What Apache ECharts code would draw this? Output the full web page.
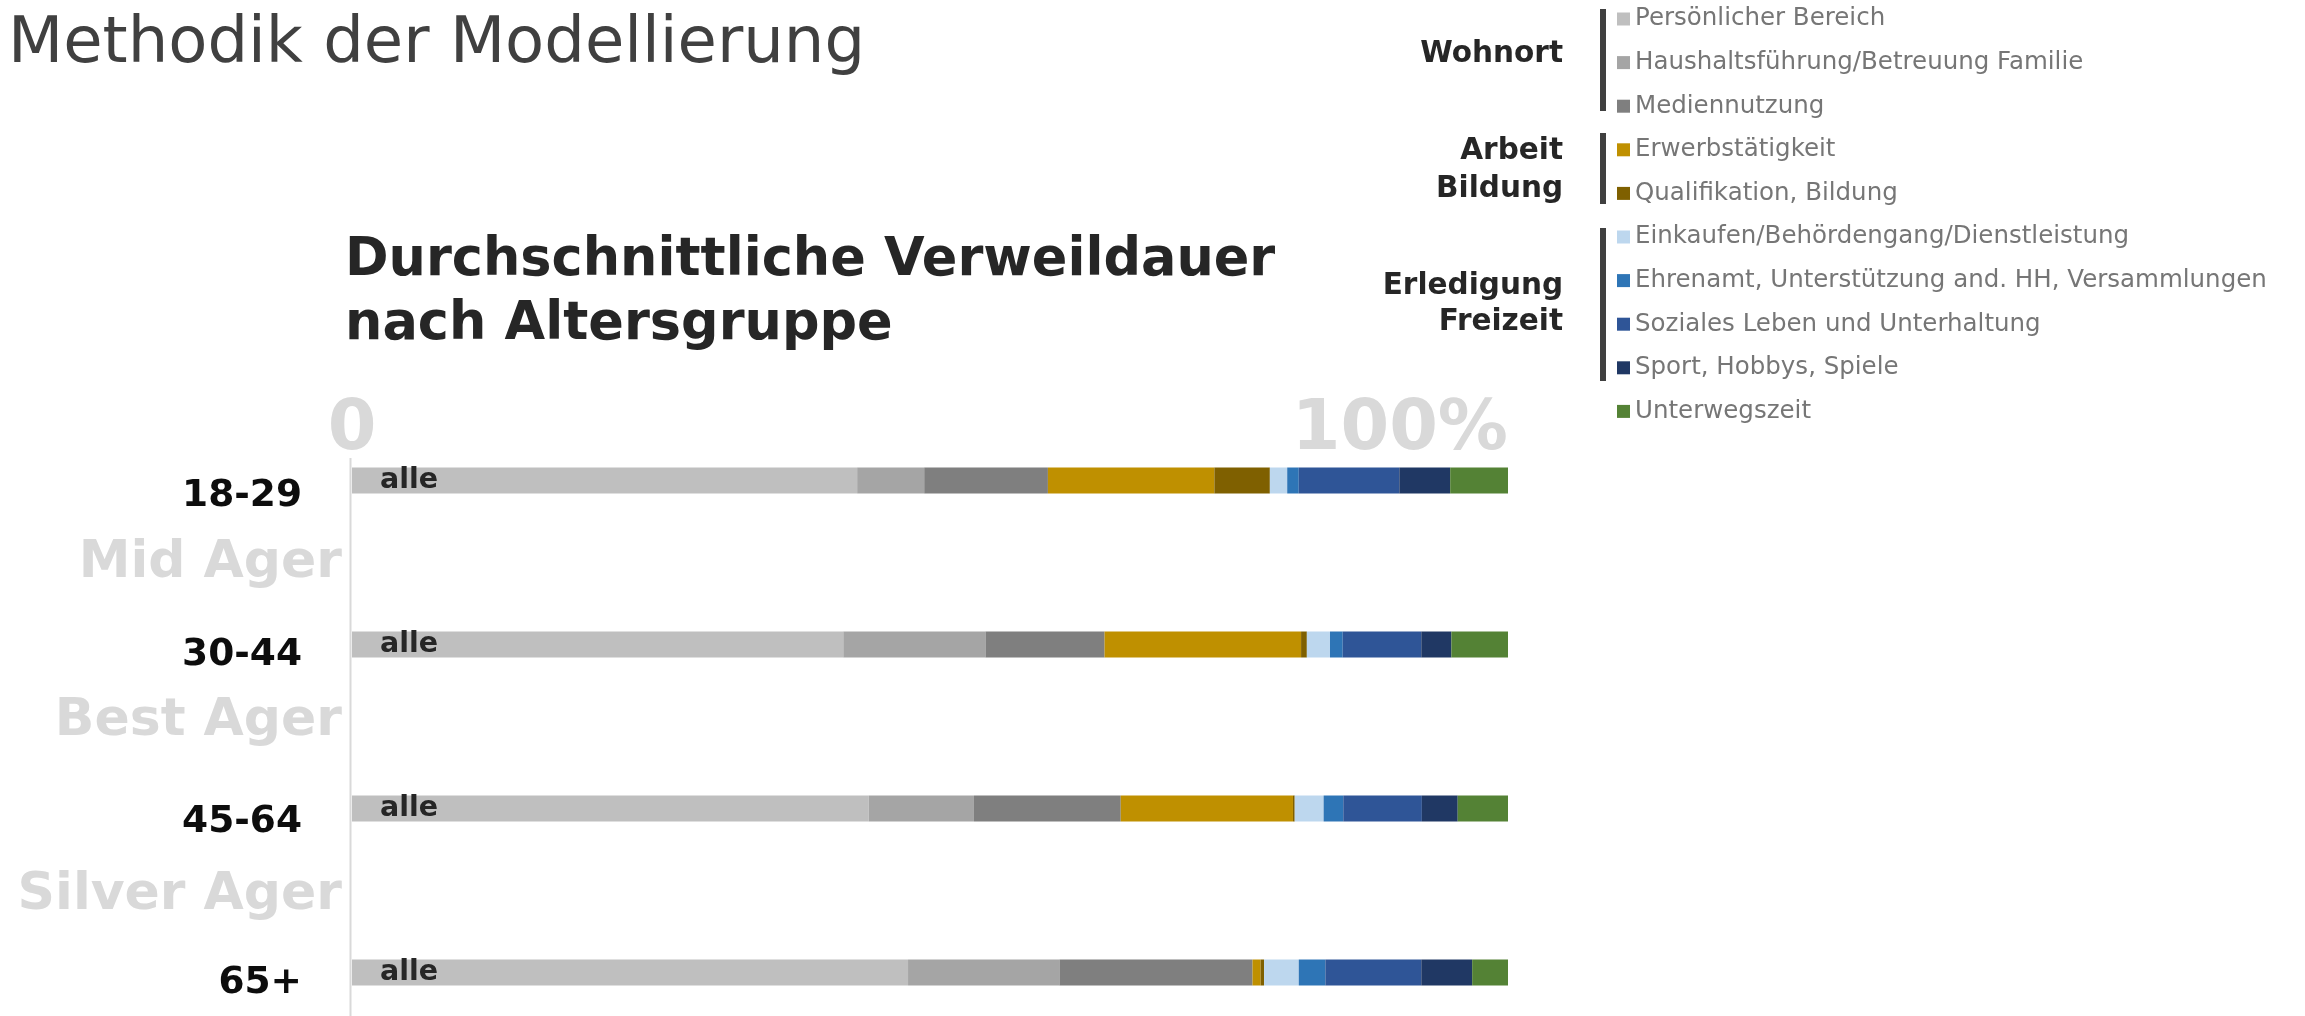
<!DOCTYPE html>
<html>
<head>
<meta charset="utf-8">
<title>Methodik der Modellierung</title>
<script src="https://cdn.jsdelivr.net/npm/echarts@6/dist/echarts.min.js"></script>
<style>
	html, body { margin: 0; padding: 0; background: #fff; }
	#main { width: 2305px; height: 1016px; }
</style>
</head>
<body>
<div id="main"></div>
<script>
// Altersgruppen und Gruppennamen dazwischen
var categories = ['18-29', '30-44', '45-64', '65+'];
var ageGroups = ['Mid Ager', 'Best Ager', 'Silver Ager', ''];

// Anteile der Verweildauer in %, je Altersgruppe
var persoenlich   = [43.7, 42.5, 44.7, 48.1];
var haushalt      = [5.8, 12.3, 9.1, 13.1];
var medien        = [10.7, 10.3, 12.7, 16.7];
var erwerb        = [14.4, 17.0, 14.9, 0.7];
var qualifikation = [4.8, 0.5, 0.15, 0.3];
var einkaufen     = [1.5, 2.0, 2.5, 3.0];
var ehrenamt      = [1.0, 1.1, 1.7, 2.3];
var sozial        = [8.7, 6.8, 6.8, 8.3];
var sport         = [4.4, 2.6, 3.1, 4.4];
var unterwegs     = [5.0, 4.9, 4.35, 3.1];

var seriesNames = [
	'Persönlicher Bereich',
	'Haushaltsführung/Betreuung Familie',
	'Mediennutzung',
	'Erwerbstätigkeit',
	'Qualifikation, Bildung',
	'Einkaufen/Behördengang/Dienstleistung',
	'Ehrenamt, Unterstützung and. HH, Versammlungen',
	'Soziales Leben und Unterhaltung',
	'Sport, Hobbys, Spiele',
	'Unterwegszeit'
];
var seriesData = [persoenlich, haushalt, medien, erwerb, qualifikation,
	einkaufen, ehrenamt, sozial, sport, unterwegs];
var colors = ['#BFBFBF', '#A5A5A5', '#7F7F7F', '#BF9000', '#7F6000',
	'#BDD7EE', '#2E75B6', '#2F5597', '#203864', '#548235'];

var FONT = 'DejaVu Sans';

var chart = echarts.init(document.getElementById('main'));

// Serien aufbauen
var series = [];
for (var i = 0; i < seriesNames.length; i++) {
	var s = {
		name : seriesNames[i],
		type : 'bar',
		stack : 'total',
		barWidth : 26,
		data : seriesData[i],
		itemStyle : { color : colors[i] },
		emphasis : { disabled : true }
	};
	if (i === 0) {
		// "alle" Beschriftung links im Balken
		s.label = {
			show : true,
			position : 'insideLeft',
			distance : 28,
			formatter : 'alle',
			color : '#262626',
			fontFamily : FONT,
			fontWeight : 'bold',
			fontSize : 28.5
		};
	}
	series.push(s);
}

// Beschriftungsstile der Y-Achse (je Zeile etwas andere Abstände)
var labelA = { fontFamily : FONT, fontWeight : 'bold', fontSize : 37.5, color : '#0D0D0D', padding : [0, 40, 0, 0] };
var labelB = { fontFamily : FONT, fontWeight : 'bold', fontSize : 52, color : '#D9D9D9' };
var aHeights = [32, 22, 27, 22];
var bHeights = [102, 109, 119];
var yRich = {};
for (var k = 0; k < aHeights.length; k++) {
	yRich['a' + k] = echarts.util.extend({ lineHeight : aHeights[k] }, labelA);
}
for (var k = 0; k < bHeights.length; k++) {
	yRich['b' + k] = echarts.util.extend({ lineHeight : bHeights[k] }, labelB);
}

chart.setOption({
	animation : false,
	color : colors,
	title : [ {
		text : 'Methodik der Modellierung',
		left : 8,
		top : 13,
		padding : 0,
		textStyle : {
			fontFamily : FONT,
			fontWeight : 'normal',
			fontSize : 64,
			lineHeight : 64,
			color : '#404040'
		}
	}, {
		text : 'Durchschnittliche Verweildauer\nnach Altersgruppe',
		left : 345,
		top : 229,
		padding : 0,
		textStyle : {
			fontFamily : FONT,
			fontWeight : 'bold',
			fontSize : 52.5,
			lineHeight : 64,
			color : '#262626'
		}
	} ],
	legend : {
		orient : 'vertical',
		left : 1617,
		top : 6.5,
		padding : 0,
		itemGap : 18.6,
		itemWidth : 13,
		itemHeight : 13,
		icon : 'rect',
		selectedMode : false,
		data : seriesNames,
		textStyle : {
			fontFamily : FONT,
			fontSize : 24.5,
			color : '#767676'
		}
	},
	grid : {
		left : 352,
		right : 797,
		top : 398.5,
		height : 656,
		containLabel : false,
		outerBoundsMode : 'none'
	},
	xAxis : {
		type : 'value',
		position : 'top',
		min : 0,
		max : 100,
		interval : 100,
		axisLine : { show : false },
		axisTick : { show : false },
		splitLine : { show : false },
		axisLabel : {
			margin : -67,
			alignMaxLabel : 'right',
			fontFamily : FONT,
			fontWeight : 'bold',
			fontSize : 70,
			color : '#D9D9D9',
			formatter : function(v) {
				return v === 0 ? '0' : '100%';
			}
		}
	},
	yAxis : {
		type : 'category',
		inverse : true,
		data : categories,
		axisLine : { show : false },
		axisTick : { show : false },
		axisLabel : {
			interval : 0,
			margin : 10,
			align : 'right',
			verticalAlign : 'top',
			formatter : function(v, idx) {
				var str = '{a' + idx + '|' + v + '}';
				if (ageGroups[idx]) {
					str += '\n{b' + idx + '|' + ageGroups[idx] + '}';
				}
				return str;
			},
			rich : yRich
		}
	},
	series : series
});

// senkrechte Achsenlinie bei 0, Klammern und Gruppennamen der Legende
var x0 = chart.convertToPixel({ xAxisIndex : 0 }, 0) - 1.5;
var groupText = {
	fontFamily : FONT,
	fontWeight : 'bold',
	fontSize : 29.5,
	fill : '#262626',
	align : 'right',
	verticalAlign : 'middle'
};
chart.setOption({
	graphic : [
		{ type : 'line', shape : { x1 : x0, y1 : 458, x2 : x0, y2 : 1016 }, style : { stroke : '#D9D9D9', lineWidth : 2 } },
		{ type : 'rect', shape : { x : 1600, y : 9, width : 6, height : 102 }, style : { fill : '#404040' } },
		{ type : 'rect', shape : { x : 1600, y : 133, width : 6, height : 71 }, style : { fill : '#404040' } },
		{ type : 'rect', shape : { x : 1600, y : 228, width : 6, height : 153 }, style : { fill : '#404040' } },
		{ type : 'text', x : 1563, y : 54, style : echarts.util.extend({ text : 'Wohnort' }, groupText) },
		{ type : 'text', x : 1563, y : 170, style : echarts.util.extend({ text : 'Arbeit\nBildung', lineHeight : 38 }, groupText) },
		{ type : 'text', x : 1563, y : 304, style : echarts.util.extend({ text : 'Erledigung\nFreizeit', lineHeight : 36 }, groupText) }
	]
});
</script>
</body>
</html>
